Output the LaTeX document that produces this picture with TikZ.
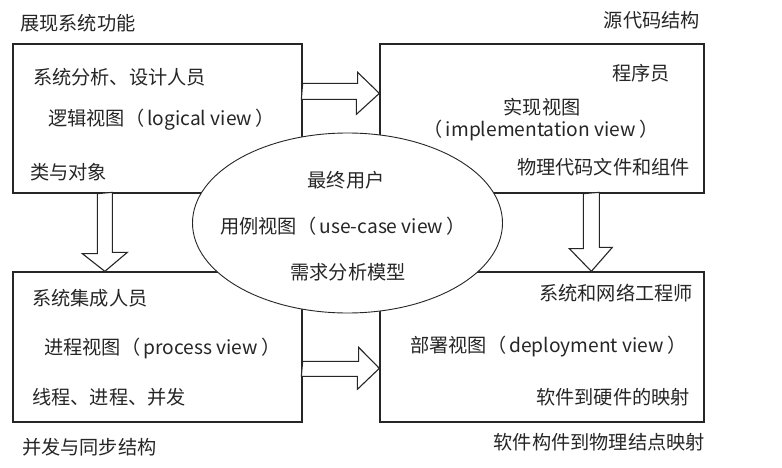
\documentclass[tikz,border=0pt]{standalone}
\usepackage{fontspec}
\setmainfont{Noto Sans CJK SC}
\usetikzlibrary{shapes.geometric}
\definecolor{ink}{HTML}{262626}
\begin{document}
\begin{tikzpicture}[x=1pt,y=-1pt,
  every node/.style={font=\fontsize{19.2}{21}\selectfont, text=ink, inner sep=0pt},
  viewbox/.style={draw=ink, line width=1.3pt, fill=white, rectangle},
  barrow/.style={draw=ink, line width=1.1pt, fill=white, line join=miter},
  usecase/.style={draw=ink, line width=0.9pt, fill=white, ellipse}]
\useasboundingbox[fill=white] (0,0) rectangle (782,468);

% boxes
\node[viewbox, minimum width=289pt, minimum height=149pt] (lv) at (157.5,118.5) {};
\node[viewbox, minimum width=324pt, minimum height=149pt] (iv) at (542,118.5) {};
\node[viewbox, minimum width=289pt, minimum height=150pt] (pv) at (157.5,347) {};
\node[viewbox, minimum width=324pt, minimum height=150pt] (dv) at (542,347) {};

% block arrows
\draw[barrow] ([yshift=-40pt]lv.north east) -- ++(55,0) -- ++(0,-11)
  -- ([yshift=-50pt]iv.north west) -- ++(-23,21) -- ++(0,-15) -- ++(-55,0) -- cycle;
\draw[barrow] ([xshift=85pt]lv.south west) -- ++(0,60) -- ++(-15,0)
  -- ([xshift=92.5pt]pv.north west) -- ++(22.5,-19) -- ++(-15,0) -- ++(0,-60) -- cycle;
\draw[barrow] ([yshift=-90pt]pv.north east) -- ++(56,0) -- ++(0,-14)
  -- ([yshift=-97pt]dv.north west) -- ++(-22,21) -- ++(0,-13) -- ++(-56,0) -- cycle;
\draw[barrow] ([xshift=204pt]iv.south west) -- ++(0,55) -- ++(-14,0)
  -- ([xshift=212pt]dv.north west) -- ++(21,-24) -- ++(-13,0) -- ++(0,-55) -- cycle;

% use-case ellipse
\node[usecase, minimum width=310pt, minimum height=180pt] (uc) at (347.5,223) {};

% outside labels
\node[anchor=west] (t1) at (20,23) {展现系统功能};
\node[anchor=east] (t2) at (700,20) {源代码结构};
\node[anchor=west] (t3) at (22,447) {并发与同步结构};
\node[anchor=east] (t4) at (705,442) {软件构件到物理结点映射};

% logical view
\node[anchor=west] (l1) at (33,77) {系统分析、设计人员};
\node[anchor=west] (l2) at (48,120) {逻辑视图（\,logical view\,）};
\node[anchor=west] (l3) at (30,172) {类与对象};

% implementation view
\node[anchor=east] (i1) at (670,73) {程序员};
\node (i2) at (542,107) {实现视图};
\node (i3) at (541,130) {（\,implementation view\,）};
\node[anchor=east] (i4) at (690,167) {物理代码文件和组件};

% use-case view
\node (u1) at (346,180) {最终用户};
\node (u2) at (343,226) {用例视图（\,use-case view\,）};
\node (u3) at (348,272) {需求分析模型};

% process view
\node[anchor=west] (p1) at (32,298) {系统集成人员};
\node[anchor=west] (p2) at (44,348) {进程视图（\,process view\,）};
\node[anchor=west] (p3) at (32,397) {线程、进程、并发};

% deployment view
\node[anchor=east] (d1) at (693,293) {系统和网络工程师};
\node[anchor=west] (d2) at (410,347) {部署视图（\,deployment view\,）};
\node[anchor=east] (d3) at (690,397) {软件到硬件的映射};
\end{tikzpicture}
\end{document}
